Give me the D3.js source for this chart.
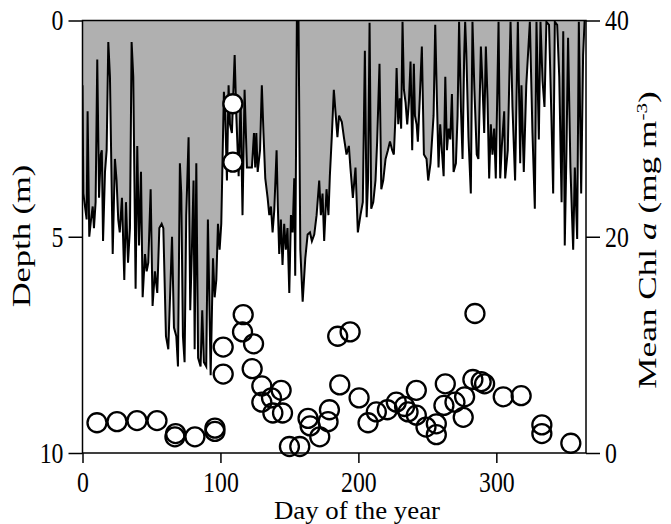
<!DOCTYPE html>
<html lang="en">
<head>
  <meta charset="UTF-8">
  <title>Depth and Chl a</title>
  <script src="https://d3js.org/d3.v7.min.js"></script>
  <style>
    body { margin: 0; background: #fff; }
    svg text { font-family: 'Liberation Serif', 'DejaVu Serif', serif; fill: #000; }
    .area { fill: #b0b0b0; stroke: none; }
    .line { fill: none; stroke: #000; stroke-width: 2; stroke-linejoin: miter; }
    .frame { fill: none; stroke: #000; stroke-width: 1.5; }
    .axis path { display: none; }
    .axis line { stroke: #000; stroke-width: 1.5; }
    .axis text { font-size: 29px; }
    .dot-bg { fill: #fff; stroke: none; }
    .dot { fill: none; stroke: #000; stroke-width: 2.3; }
  </style>
</head>
<body>
<script>
  // depth series (day of year, depth in m)
  const depthDays = [
    0, 0.6, 3, 3.7, 4.9, 6.2, 7.4, 8.3, 9.5, 10.7, 12, 13.2, 14, 14.9, 16.3, 17.5, 18.7, 19.9, 21.9, 23.5,
    24.7, 25.9, 27, 28.6, 30.3, 31.5, 33, 34.4, 35.6, 36.8, 38.5, 39.7, 41, 42.4, 43.6, 45.3, 46.5, 47.7, 49.4, 50.8,
    52.5, 54.2, 55.7, 57.4, 58.6, 60.5, 62.2, 64.9, 66.3, 68, 69.2, 70.6, 71.6, 72.8, 74, 75.2, 76.9, 78.1, 79.3, 80.5,
    81.3, 82.5, 83.8, 85.6, 86.8, 88, 89.7, 90.9, 92.9, 94.6, 95.8, 97, 98.2, 99.4, 100.6, 102.5, 103.5, 104.7, 105.9, 106.9,
    108.3, 110.3, 111.5, 113.2, 114.6, 116, 117.5, 119.2, 121, 122.8, 124.3, 125.2, 126, 127, 128.7, 130, 131.2, 132.5, 134.2, 135.4,
    136.6, 137.8, 139, 140.7, 141.6, 142.6, 143.8, 145, 146.2, 147.4, 148.6, 149.9, 151.1, 152.3, 153.5, 154.2, 155.4, 156.6, 157.9, 159.6,
    161.5, 163.2, 164.9, 166.3, 168, 169.7, 171.6, 172.8, 174, 175.2, 176.9, 178.3, 179.3, 180.7, 182.2, 183.6, 184.8, 186, 188, 189.5,
    191.4, 193.1, 194.2, 196, 197.9, 199.6, 201.5, 203.2, 204.7, 206, 207, 208.1, 209.3, 210.8, 212.4, 213.6, 215.3, 216.6, 218, 219.7,
    221.4, 222.9, 224.5, 225.7, 226.9, 227.7, 228.9, 230, 231, 232, 233, 234.2, 235.4, 236.6, 237.8, 239, 240.2, 241, 242.2, 243.1,
    244.5, 246, 247.5, 249.4, 250.6, 252.3, 253.3, 254.5, 255.7, 256.9, 258.1, 259.3, 260.5, 261.8, 263, 264.2, 265.4, 266.6, 267.8, 269,
    270.7, 271.9, 273, 274.3, 275.5, 276.7, 277.4, 278.2, 279.8, 281.5, 282.7, 284.1, 285.8, 287, 288.8, 290, 291.2, 292.4, 293.6, 294.8,
    296, 297.2, 298.4, 299.6, 301.6, 302.8, 304, 305.7, 306.4, 308.3, 310.3, 311.7, 313.6, 315.6, 317.3, 318.2, 319.9, 321.7, 324.3, 326.2,
    327.9, 329.1, 330.8, 332, 333.5, 334.9, 336.3, 338.2, 339.9, 341.2, 342.4, 344.1, 345.6, 347.3, 348.5, 349.6, 350.8, 352, 353.7, 355.7,
    356.9, 358.6, 359.8, 361.5, 362.9, 364
  ];
  const depthVals = [
    1.5, 4.0, 4.6, 2.1, 5.0, 4.6, 4.3, 4.8, 4.2, 0.9, 4.1, 3.1, 3.0, 5.1, 3.5, 3.0, 0.5, 1.3, 5.4, 3.2,
    3.7, 4.6, 4.9, 4.1, 6.0, 4.2, 5.6, 4.8, 0.5, 1.3, 6.2, 2.9, 5.2, 3.5, 6.4, 5.4, 5.8, 5.6, 3.9, 6.6,
    5.8, 6.3, 4.8, 4.7, 4.8, 7.3, 7.6, 5.0, 7.1, 7.3, 8.0, 3.3, 4.0, 7.3, 7.9, 4.5, 2.7, 6.7, 5.3, 3.7,
    7.6, 3.3, 7.8, 8.0, 6.7, 7.9, 8.0, 4.6, 8.2, 5.5, 6.4, 6.0, 4.7, 5.3, 4.7, 1.65, 2.2, 3.7, 1.5, 2.4,
    2.6, 0.8, 2.2, 3.6, 1.8, 4.5, 1.6, 3.4, 3.4, 3.4, 2.6, 3.4, 2.6, 3.5, 3.0, 1.5, 2.6, 3.65, 4.1, 4.5,
    4.3, 4.9, 4.4, 3.0, 4.3, 5.4, 4.6, 5.65, 4.7, 5.3, 4.8, 6.3, 4.5, 4.9, 3.65, 5.9, 0.0, 0.0, 5.3, 6.5,
    5.5, 4.95, 4.9, 5.1, 4.95, 4.5, 3.7, 4.5, 4.0, 5.1, 3.9, 4.5, 3.6, 2.7, 1.6, 2.2, 2.7, 2.2, 2.35, 2.7,
    3.1, 2.9, 3.4, 4.1, 3.4, 4.9, 4.5, 4.2, 0.7, 4.55, 3.7, 0.05, 4.35, 4.2, 3.7, 2.8, 1.0, 3.9, 3.7, 3.2,
    3.0, 2.8, 3.0, 3.1, 2.2, 1.1, 2.4, 1.8, 2.5, 0.03, 1.6, 1.9, 2.4, 1.9, 0.95, 3.0, 1.0, 2.2, 2.4, 2.8,
    1.8, 0.6, 3.1, 3.2, 3.7, 3.3, 2.8, 2.2, 0.1, 1.8, 3.4, 2.4, 3.0, 3.6, 1.3, 3.0, 2.5, 2.75, 1.7, 3.5,
    3.3, 2.2, 0.03, 2.0, 3.2, 0.8, 0.03, 0.7, 2.7, 4.0, 0.03, 1.6, 3.1, 3.2, 0.6, 1.5, 2.6, 0.6, 1.8, 3.65,
    2.4, 3.1, 2.5, 3.65, 0.03, 3.65, 2.9, 2.1, 3.65, 3.0, 0.03, 2.0, 3.7, 0.03, 3.3, 1.5, 3.5, 1.5, 0.03, 2.6,
    4.35, 0.03, 2.75, 0.03, 1.4, 2.0, 0.03, 0.1, 2.2, 4.0, 0.03, 0.1, 1.3, 4.2, 0.25, 5.2, 3.1, 0.4, 3.4, 5.3,
    3.4, 5.05, 0.03, 4.0, 0.8, 0.0
  ];

  // mean Chl a samples (day of year, mg m-3)
  const chlDays = [
    10.5, 25, 39.5, 54, 67.5, 67, 81.5, 96, 96, 102, 102, 109, 109, 116.5, 116, 124, 123, 130, 130, 137,
    144, 138, 145, 150, 157.5, 163.5, 165, 172, 179, 178, 185, 194, 186.5, 200.5, 207, 213, 221, 227.5, 233.5, 236,
    242, 242, 249, 256.5, 256.5, 263, 262, 270, 276, 277, 283, 289, 291.5, 284.5, 305, 318, 333, 333, 354
  ];
  const chlVals = [
    2.8, 2.9, 3.0, 3.0, 1.8, 1.5, 1.5, 2.3, 2.0, 9.8, 7.3, 32.3, 26.9, 12.8, 11.2, 10.1, 7.8, 6.2, 4.7, 5.1,
    5.8, 3.7, 3.7, 0.6, 0.6, 3.2, 2.5, 1.5, 4.0, 2.9, 10.8, 11.2, 6.3, 5.1, 2.8, 3.8, 4.0, 4.7, 4.3, 3.8,
    5.8, 3.5, 2.4, 2.7, 1.7, 6.4, 4.4, 4.7, 3.3, 5.2, 6.8, 6.6, 6.4, 12.9, 5.2, 5.3, 2.6, 1.8, 0.9
  ];

  const xTicks = [0, 100, 200, 300];
  const depthTicks = [0, 5, 10];
  const chlTicks = [0, 20, 40];

  const depthData = depthDays.map((d, i) => ({day: d, depth: depthVals[i]}));
  const chlData = chlDays.map((d, i) => ({day: d, chl: chlVals[i]}));

  const W = 671, H = 524;
  const plotL = 82.5, plotR = 586, plotT = 20.5, plotB = 453;
  const serif = "'Liberation Serif', 'DejaVu Serif', serif";

  const x = d3.scaleLinear().domain([0, 365]).range([plotL, plotR]);
  const yDepth = d3.scaleLinear().domain([0, 10]).range([plotT, plotB]);
  const yChl = d3.scaleLinear().domain([0, 40]).range([plotB, plotT]);

  const svg = d3.select('body').append('svg')
    .attr('width', W)
    .attr('height', H);

  svg.append('clipPath').attr('id', 'plot')
    .append('rect')
    .attr('x', plotL).attr('y', plotT)
    .attr('width', plotR - plotL).attr('height', plotB - plotT);

  const area = d3.area()
    .x(d => x(d.day))
    .y0(yDepth(0))
    .y1(d => yDepth(d.depth));

  const line = d3.line()
    .x(d => x(d.day))
    .y(d => yDepth(d.depth));

  const g = svg.append('g').attr('clip-path', 'url(#plot)');
  g.append('path').datum(depthData).attr('class', 'area').attr('d', area);
  g.append('path').datum(depthData).attr('class', 'line').attr('d', line);

  // circles: white interiors first, then all outlines so overlaps stay visible
  svg.selectAll('.dot-bg')
    .data(chlData)
    .enter().append('circle')
    .attr('class', 'dot-bg')
    .attr('cx', d => x(d.day))
    .attr('cy', d => yChl(d.chl))
    .attr('r', 9.5);
  svg.selectAll('.dot')
    .data(chlData)
    .enter().append('circle')
    .attr('class', 'dot')
    .attr('cx', d => x(d.day))
    .attr('cy', d => yChl(d.chl))
    .attr('r', 9.5);

  // frame
  svg.append('rect').attr('class', 'frame')
    .attr('x', plotL).attr('y', plotT)
    .attr('width', plotR - plotL).attr('height', plotB - plotT);

  // axes
  const yAxisL = svg.append('g').attr('class', 'axis')
    .attr('transform', `translate(${plotL},0)`)
    .call(d3.axisLeft(yDepth).tickValues(depthTicks).tickSize(14).tickPadding(5).tickFormat(d3.format('d')));

  const yAxisR = svg.append('g').attr('class', 'axis')
    .attr('transform', `translate(${plotR},0)`)
    .call(d3.axisRight(yChl).tickValues(chlTicks).tickSize(14).tickPadding(5).tickFormat(d3.format('d')));

  const xAxis = svg.append('g').attr('class', 'axis')
    .attr('transform', `translate(0,${plotB})`)
    .call(d3.axisBottom(x).tickValues(xTicks).tickSize(10).tickPadding(8).tickFormat(d3.format('d')));

  // the printed lettering is narrow and tall: squeeze the tick labels sideways
  [yAxisL, yAxisR, xAxis].forEach(a => {
    a.attr('font-family', serif).attr('font-size', 29);
    a.selectAll('text').each(function() {
      const len = this.getComputedTextLength();
      d3.select(this).attr('textLength', len * 0.82).attr('lengthAdjust', 'spacingAndGlyphs');
    });
  });

  // titles
  svg.append('text')
    .attr('x', 357).attr('y', 519)
    .attr('text-anchor', 'middle')
    .attr('font-family', serif)
    .style('font-size', '26px')
    .attr('textLength', 166).attr('lengthAdjust', 'spacingAndGlyphs')
    .text('Day of the year');

  svg.append('text')
    .attr('transform', `translate(30,236) rotate(-90) scale(1.38,1)`)
    .attr('text-anchor', 'middle')
    .attr('font-family', serif)
    .style('font-size', '25px')
    .text('Depth (m)');

  const rt = svg.append('text')
    .attr('transform', `translate(656,240) rotate(-90) scale(1.41,1)`)
    .attr('text-anchor', 'middle')
    .attr('font-family', serif)
    .style('font-size', '25px');
  rt.append('tspan').text('Mean Chl ');
  rt.append('tspan').style('font-style', 'italic').text('a');
  rt.append('tspan').text(' (mg m');
  rt.append('tspan').attr('dy', -9).style('font-size', '15px').text('-3');
  rt.append('tspan').attr('dy', 9).text(')');
</script>
</body>
</html>
